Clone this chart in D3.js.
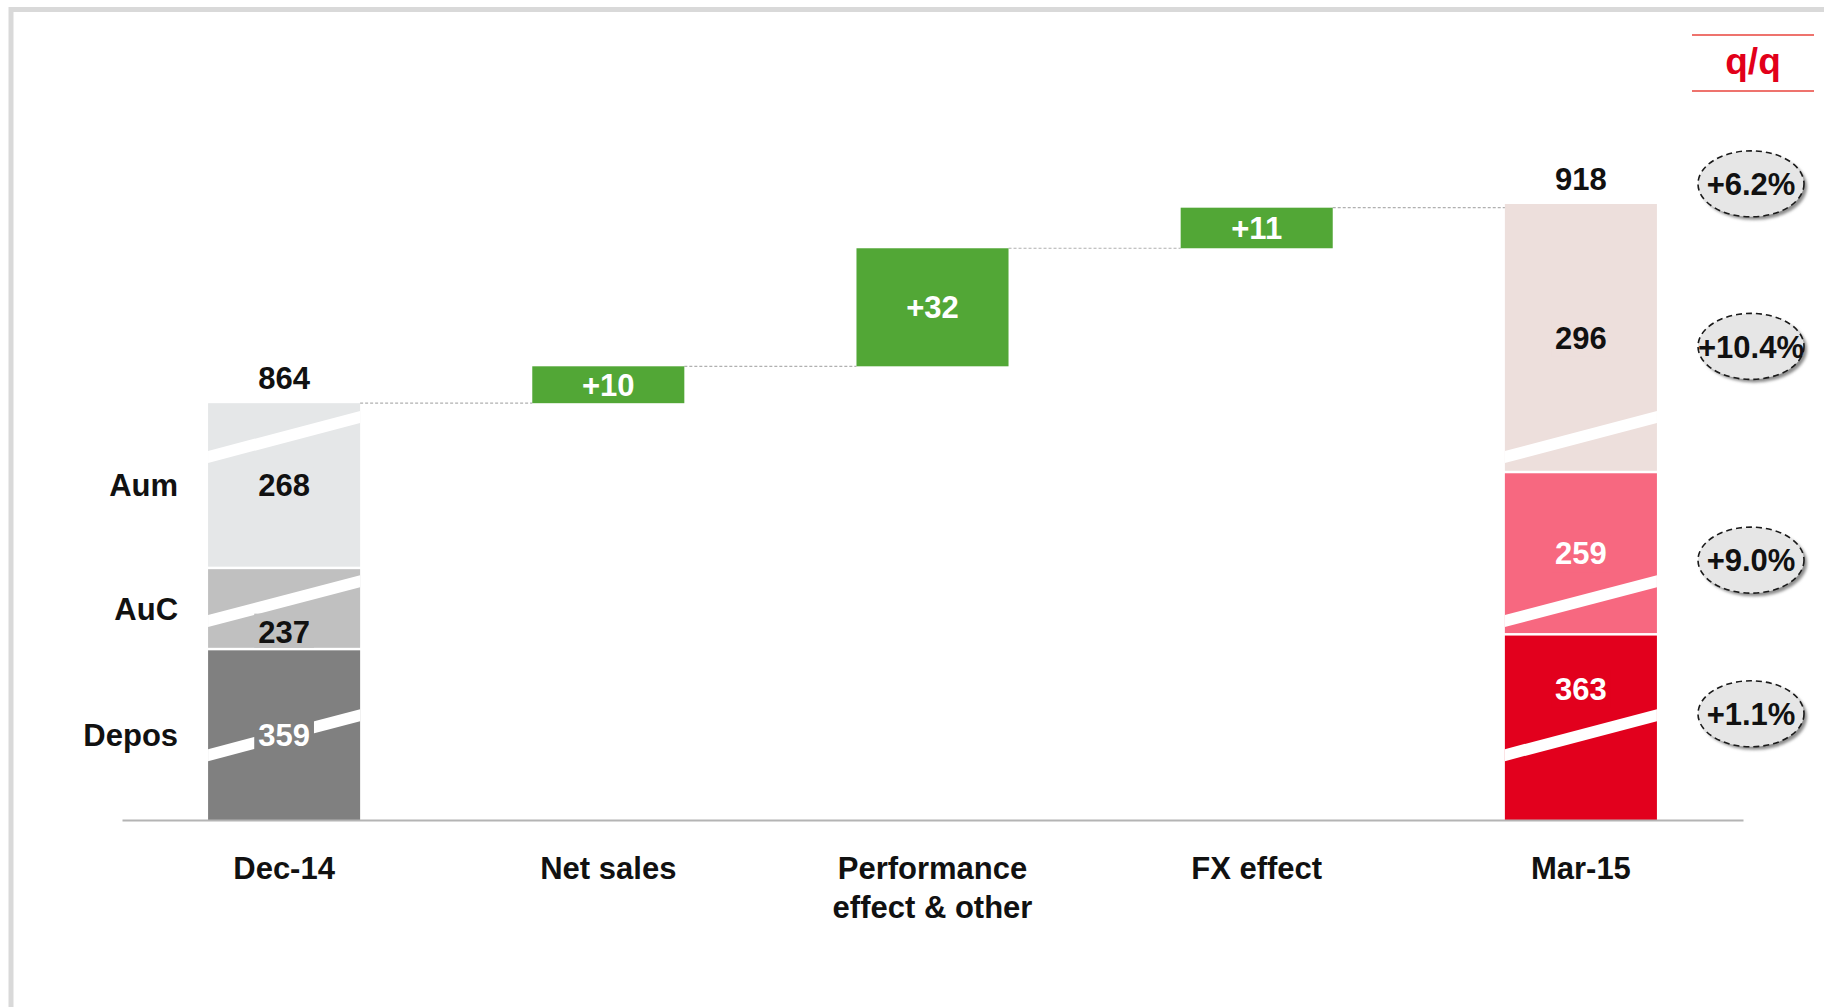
<!DOCTYPE html>
<html>
<head>
<meta charset="utf-8">
<script src="https://cdn.jsdelivr.net/npm/d3@7"></script>
<style>
  html, body { margin: 0; padding: 0; background: #ffffff; }
  svg { display: block; font-family: "Liberation Sans", Arial, Helvetica, sans-serif; font-weight: bold; }
</style>
</head>
<body>
<svg id="chart" width="1824" height="1007"></svg>
<script>
// ---- data ----
// Categories along the x axis ("\n" starts a second label line)
const categories = ["Dec-14", "Net sales", "Performance\neffect & other", "FX effect", "Mar-15"];
// Asset classes, stacked bottom to top
const segments = ["Depos", "AuC", "Aum"];
// Stock at each period end by asset class (same order as segments)
const dec14Values = [359, 237, 268];
const mar15Values = [363, 259, 296];
// Totals printed above the two stacked bars
const dec14Total = 864;
const mar15Total = 918;
// Bridge steps between the two period ends
const bridgeSteps = ["Net sales", "Performance\neffect & other", "FX effect"];
const bridgeValues = [10, 32, 11];
// Amount removed from each stacked band by its axis break (Depos, AuC, Aum)
const breakCuts = [313, 215, 223];
// Quarter-on-quarter growth: total, then by asset class (Depos, AuC, Aum)
const growthTotal = "+6.2%";
const growthBySegment = ["+1.1%", "+9.0%", "+10.4%"];
// Column heading of the growth badges
const growthHeading = "q/q";

// ---- styling / layout ----
const decColors = ["#808080", "#c0c0c0", "#e5e7e8"];
const marColors = ["#e2001d", "#f76880", "#eddfdc"];
const decText = ["#ffffff", "#111111", "#111111"];
const marText = ["#ffffff", "#ffffff", "#111111"];
const stepColor = "#52a736";
const red = "#e2001a";
const fontSize = 31;
const baseY = 820;
const topY = 204;
const axisX0 = 122, axisX1 = 1743;
const segGap = 2.5;          // white gap between stacked bands
const breakThick = 12;       // vertical thickness of a break band
const breakRise = 0.263;     // break band rise per px of bar width
// where each stacked label sits relative to its break band
const decPlacement = ["center", "below", "center"];
const marPlacement = ["above", "center", "center"];
// fine vertical nudges of the growth badges (Depos, AuC, Aum)
const badgeNudge = [-14, 7, 9];
const badgeX = 1751;

const svg = d3.select("#chart");

// frame
svg.append("rect")
  .attr("x", 11).attr("y", 9.5)
  .attr("width", 3000).attr("height", 3000)
  .attr("fill", "none").attr("stroke", "#d9d9d9").attr("stroke-width", 5);

// scales
const cutTotal = d3.sum(breakCuts);
const y = d3.scaleLinear().domain([cutTotal, mar15Total]).range([baseY, topY]);
const x = d3.scaleBand().domain(categories).range([axisX0, axisX1])
  .paddingInner(0.531).paddingOuter(0.2655);
const bw = x.bandwidth();

// shadow filter for growth badges
const defs = svg.append("defs");
const f = defs.append("filter").attr("id", "soft").attr("x", "-20%").attr("y", "-20%")
  .attr("width", "140%").attr("height", "140%");
f.append("feGaussianBlur").attr("stdDeviation", 1.6);

// stacked bars with breaks
function stackRows(values) {
  let acc = cutTotal;
  return values.map((v, i) => {
    const vis = v - breakCuts[i];
    const row = { i, value: v, lo: acc, hi: acc + vis };
    acc += vis;
    row.yTop = y(row.hi);
    row.yBot = y(row.lo) - (i > 0 ? segGap : 0);
    return row;
  });
}
const decRows = stackRows(dec14Values);
const marRows = stackRows(mar15Values);

// break band centre: middle of the span shared by both period bars
const breakY = segments.map((s, i) => {
  const t = Math.max(decRows[i].yTop, marRows[i].yTop);
  const b = Math.min(decRows[i].yBot, marRows[i].yBot);
  return (t + b) / 2;
});

function drawStack(cat, rows, colors, textColors, placement) {
  const x0 = x(cat), x1 = x0 + bw, cx = x0 + bw / 2;
  const g = svg.append("g");
  g.selectAll("rect.seg").data(rows).join("rect")
    .attr("class", "seg")
    .attr("x", x0).attr("width", bw)
    .attr("y", d => d.yTop).attr("height", d => d.yBot - d.yTop)
    .attr("fill", d => colors[d.i]);
  // diagonal break bands
  const rise = bw * breakRise;
  g.selectAll("polygon.brk").data(rows).join("polygon")
    .attr("class", "brk")
    .attr("fill", "#ffffff")
    .attr("points", d => {
      const yb = breakY[d.i];
      return [
        [x0, yb + rise / 2 - breakThick / 2],
        [x1, yb - rise / 2 - breakThick / 2],
        [x1, yb - rise / 2 + breakThick / 2],
        [x0, yb + rise / 2 + breakThick / 2]
      ].map(p => p.join(",")).join(" ");
    });
  // labels, each on a patch of its band colour (kept inside the band)
  rows.forEach(d => {
    const yb = breakY[d.i];
    let cy;
    if (placement[d.i] === "below") cy = (yb + breakThick / 2 + d.yBot) / 2 + 4;
    else if (placement[d.i] === "above") cy = (d.yTop + yb - breakThick / 2) / 2 + 6;
    else cy = (d.yTop + d.yBot) / 2;
    const t = g.append("text")
      .attr("x", cx).attr("y", cy).attr("dy", "0.36em")
      .attr("text-anchor", "middle")
      .attr("font-size", fontSize)
      .attr("fill", textColors[d.i])
      .text(d.value);
    const bb = t.node().getBBox();
    const py0 = Math.max(bb.y - 1, d.yTop);
    const py1 = Math.min(bb.y + bb.height + 1, d.yBot);
    g.insert("rect", () => t.node())
      .attr("x", bb.x - 4).attr("y", py0)
      .attr("width", bb.width + 8).attr("height", Math.max(0, py1 - py0))
      .attr("fill", colors[d.i]);
  });
  return rows;
}

drawStack("Dec-14", decRows, decColors, decText, decPlacement);
drawStack("Mar-15", marRows, marColors, marText, marPlacement);

// totals above the stacked bars
[["Dec-14", dec14Total], ["Mar-15", mar15Total]].forEach(([c, v]) => {
  svg.append("text")
    .attr("x", x(c) + bw / 2).attr("y", y(v) - 14)
    .attr("text-anchor", "middle").attr("font-size", fontSize).attr("fill", "#111")
    .text(v);
});

// segment names left of the first bar
svg.append("g").selectAll("text").data(decRows).join("text")
  .attr("x", x("Dec-14") - 30)
  .attr("y", d => (d.yTop + d.yBot) / 2).attr("dy", "0.36em")
  .attr("text-anchor", "end").attr("font-size", fontSize).attr("fill", "#111")
  .text(d => segments[d.i]);

// bridge steps and dashed connectors
let running = dec14Total;
let prevRight = x("Dec-14") + bw;
const conn = svg.append("g").attr("stroke", "#b0b0b0").attr("stroke-width", 1.2)
  .attr("stroke-dasharray", "3,2");
bridgeSteps.forEach((s, i) => {
  const v = bridgeValues[i];
  const x0 = x(s);
  conn.append("line")
    .attr("x1", prevRight).attr("x2", x0)
    .attr("y1", y(running)).attr("y2", y(running));
  svg.append("rect")
    .attr("x", x0).attr("width", bw)
    .attr("y", y(running + v)).attr("height", y(running) - y(running + v))
    .attr("fill", stepColor);
  svg.append("text")
    .attr("x", x0 + bw / 2).attr("y", (y(running) + y(running + v)) / 2).attr("dy", "0.36em")
    .attr("text-anchor", "middle").attr("font-size", fontSize).attr("fill", "#fff")
    .text("+" + v);
  running += v;
  prevRight = x0 + bw;
});
conn.append("line")
  .attr("x1", prevRight).attr("x2", x("Mar-15"))
  .attr("y1", y(running)).attr("y2", y(running));

// x axis
const axis = svg.append("g")
  .attr("transform", `translate(0,${baseY})`)
  .call(d3.axisBottom(x).tickSize(0).tickSizeOuter(0));
axis.select(".domain").attr("stroke", "#b4b4b4").attr("stroke-width", 2);
axis.selectAll(".tick text").each(function(d) {
  const t = d3.select(this);
  t.text(null).attr("y", 59).attr("dy", null)
    .attr("font-size", fontSize).attr("font-family", null).attr("fill", "#111");
  d.split("\n").forEach((line, k) => {
    t.append("tspan").attr("x", 0).attr("dy", k === 0 ? 0 : 39).text(line);
  });
});
axis.attr("font-family", null);

// growth column heading
svg.append("line").attr("x1", 1692).attr("x2", 1814).attr("y1", 35).attr("y2", 35)
  .attr("stroke", "#e8453c").attr("stroke-width", 1.5);
svg.append("line").attr("x1", 1692).attr("x2", 1814).attr("y1", 91).attr("y2", 91)
  .attr("stroke", "#e8453c").attr("stroke-width", 1.5);
svg.append("text").attr("x", 1753).attr("y", 74)
  .attr("text-anchor", "middle").attr("font-size", 37).attr("fill", red)
  .text(growthHeading);

// growth badges
const badges = [{ label: growthTotal, cy: y(mar15Total) - 14 - 0.36 * fontSize + 5 }]
  .concat(marRows.map(d => ({ label: growthBySegment[d.i], cy: (d.yTop + d.yBot) / 2 + badgeNudge[d.i] })));
const bg = svg.append("g").selectAll("g").data(badges).join("g")
  .attr("transform", d => `translate(${badgeX},${d.cy})`);
bg.append("ellipse").attr("cx", 3).attr("cy", 3).attr("rx", 53).attr("ry", 33)
  .attr("fill", "#8c8c8c").attr("filter", "url(#soft)");
bg.append("ellipse").attr("rx", 53).attr("ry", 33)
  .attr("fill", "#e6e6e6").attr("stroke", "#1a1a1a").attr("stroke-width", 1.6)
  .attr("stroke-dasharray", "6,4");
bg.append("text").attr("dy", "0.36em").attr("text-anchor", "middle")
  .attr("font-size", fontSize).attr("fill", "#111")
  .text(d => d.label);
</script>
</body>
</html>
